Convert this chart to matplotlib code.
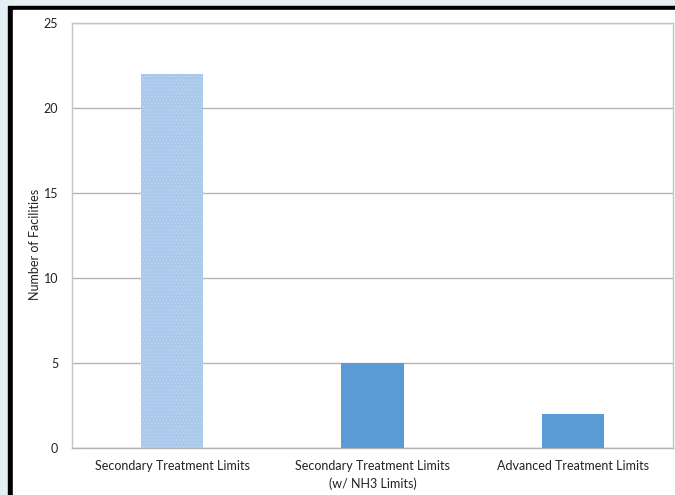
import numpy as np
import matplotlib.pyplot as plt
from matplotlib.patches import Rectangle

# Données du graphique
categories = ["Secondary Treatment Limits",
              "Secondary Treatment Limits\n(w/ NH3 Limits)",
              "Advanced Treatment Limits"]
facilities = [22, 5, 2]
bar_colors = ["#a9c9ec", "#5b9bd5", "#5b9bd5"]
y_ticks = [0, 5, 10, 15, 20, 25]

plt.rcParams['font.family'] = ['Lato', 'DejaVu Sans']
plt.rcParams['hatch.linewidth'] = 0.4

W, H = 675, 495
fig = plt.figure(figsize=(W / 100, H / 100), dpi=100)

# Fond : bande bleu clair, cadre noir, zone blanche
fig.patches.append(Rectangle((0, 0), 1, 1, transform=fig.transFigure,
                             color="#e4f0f3", zorder=-3))
fig.patches.append(Rectangle((8 / W, 0), 1, 1 - 6 / H, transform=fig.transFigure,
                             color="black", zorder=-2))
fig.patches.append(Rectangle((13 / W, 0), 1, 1 - 10 / H, transform=fig.transFigure,
                             color="white", zorder=-1))

# Zone de tracé (en pixels)
left, right, top, bottom = 72, 673, 23, 448
ax = fig.add_axes([left / W, 1 - bottom / H, (right - left) / W, (bottom - top) / H])
ax.set_facecolor("white")

x = np.arange(len(categories))
bars = ax.bar(x, facilities, width=0.31, color=bar_colors, zorder=3)
bars[0].set_hatch(".....")
bars[0].set_edgecolor("#c9dcf1")
bars[0].set_linewidth(0)

ax.set_xlim(-0.5, len(categories) - 0.5)
ax.set_ylim(0, 25)
ax.set_yticks(y_ticks)
ax.set_xticks(x)
ax.set_xticklabels(categories, fontsize=9, color="#222222", linespacing=1.5)
ax.tick_params(axis="y", labelsize=9, labelcolor="#222222", length=0, pad=10)
ax.tick_params(axis="x", length=0, pad=9)
ax.yaxis.grid(True, color="#b5b5b5", linewidth=1.0, zorder=0)

for side in ["left", "right", "top", "bottom"]:
    ax.spines[side].set_color("#c4c4c4")
    ax.spines[side].set_linewidth(1.0)
ax.spines["bottom"].set_color("#b5b5b5")

ax.set_ylabel("Number of Facilities", fontsize=9, color="#222222")
ax.yaxis.set_label_coords(-31 / (right - left), 0.48)

fig.savefig("out.png", dpi=100)
